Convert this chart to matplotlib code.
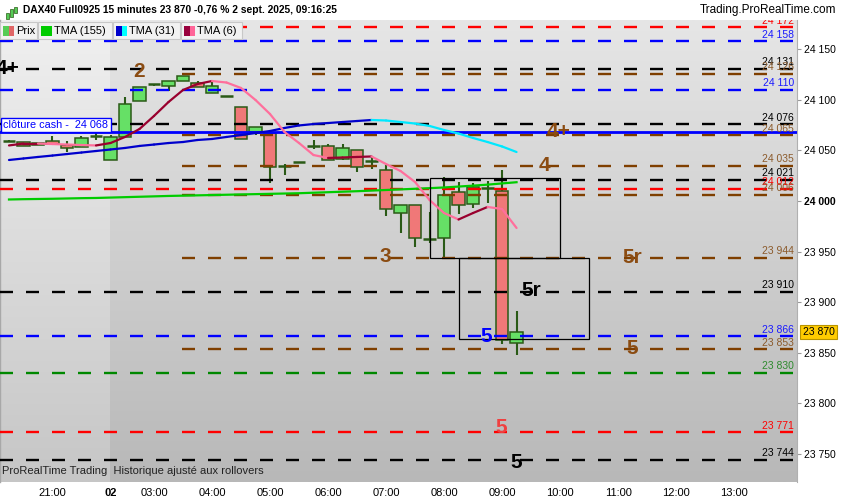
import matplotlib
matplotlib.use("Agg")
import matplotlib.pyplot as plt
import numpy as np
from matplotlib import font_manager
from matplotlib.patches import Rectangle
from matplotlib.collections import LineCollection
from matplotlib.colors import LinearSegmentedColormap

W, H = 850, 500

# bougies 15 minutes DAX40 Full0925 (index de barre 0 -> 35)
ouv = [24059, 24058, 24055, 24059.5, 24055.5, 24053, 24064.5, 24041, 24063, 24099,
       24116, 24114, 24119, 24116.5, 24107, 24104, 24093, 24068, 24067, 24035,
       24039, 24054, 24054, 24042, 24050.5, 24040, 24031, 23988.5, 23996, 23962.5,
       23963.5, 24008.5, 23997.5, 24013, 24010, 23859]
haut = [24060, 24058, 24057, 24064, 24059, 24064, 24069, 24065, 24103, 24113,
        24116, 24119, 24124, 24119, 24118, 24104, 24093, 24073, 24067, 24037,
        24039, 24060, 24056, 24056, 24050.5, 24044.5, 24035.5, 23996, 23996, 23989.5,
        24023.5, 24019, 24018, 24020, 24031, 23891]
bas = [24058, 24054, 24055, 24056, 24049, 24053, 24060, 24041, 24063, 24099,
       24114, 24109, 24119, 24112.5, 24107, 24104, 24061, 24065, 24017.5, 24026,
       24039, 24051.5, 24041, 24040.5, 24029, 24031.5, 23985, 23968.5, 23954, 23958.5,
       23943, 23987, 23993, 23998, 23858, 23848]
clo = [24059, 24054.5, 24057, 24056, 24052, 24062, 24064.5, 24063, 24096, 24112.5,
       24116, 24119, 24123.5, 24112.5, 24114, 24104, 24061, 24073, 24034, 24035,
       24039, 24054, 24041, 24052, 24034, 24040, 23992, 23996, 23963.5, 23962.5,
       24006, 23996.5, 24013.5, 24013, 23862.5, 23870]

tma155 = [24001.5, 24001.8, 24002.0, 24002.2, 24002.5, 24002.8, 24003.0, 24003.4, 24003.8, 24004.2,
          24004.6, 24005.0, 24005.3, 24005.6, 24005.9, 24006.2, 24006.5, 24006.8, 24007.1, 24007.4,
          24007.7, 24008.2, 24008.7, 24009.2, 24009.7, 24010.3, 24010.9, 24011.5, 24012.1, 24012.7,
          24013.4, 24014.3, 24015.2, 24016.2, 24017.4, 24018.6]
tma31 = [24040.6, 24042.1, 24043.6, 24045.0, 24046.5, 24048.0, 24049.5, 24051.0, 24052.5, 24054.5,
         24055.9, 24057.4, 24058.4, 24060.4, 24061.4, 24063.4, 24065.3, 24067.3, 24069.3, 24072.3,
         24074.8, 24076.2, 24077.2, 24078.2, 24079.2, 24080.2, 24079.7, 24078.2, 24076.7, 24074.3,
         24070.3, 24066.8, 24062.4, 24058.4, 24054.0, 24048.5]
tma6 = [24055.0, 24056.9, 24056.9, 24056.4, 24055.9, 24055.4, 24055.0, 24057.4, 24063.4, 24071.3,
        24084.2, 24098.0, 24109.9, 24115.8, 24118.8, 24117.3, 24111.9, 24100.0, 24086.1, 24068.3,
        24057.4, 24045.5, 24042.6, 24043.1, 24043.6, 24044.1, 24036.6, 24029.7, 24018.8, 24001.0,
        23988.1, 23981.7, 23988.1, 23994.1, 23992.1, 23973.3]

# niveaux horizontaux
niveaux_val = [24172, 24158, 24131, 24126, 24110, 24076, 24065, 24035, 24021, 24012,
               24006, 23944, 23910, 23866, 23853, 23830, 23771, 23744]
niveaux_typ = ['rouge', 'bleu', 'noir', 'brun', 'bleu', 'noir', 'brun', 'brun', 'noir', 'rouge',
               'brun', 'brun', 'noir', 'bleu', 'brun', 'vert', 'rouge', 'noir']
cloture_cash = 24068
dernier = 23870

# étiquettes de vagues
vagues_txt = ['4+', '2', '4+', '4', '3', '5r', '5r', '5', '5', '5', '5']
vagues_x = [-0.1, 8.97, 37.93, 36.9, 25.93, 42.97, 36.0, 32.9, 42.97, 33.93, 34.97]
vagues_y = [24131, 24128, 24069, 24035.5, 23945.5, 23944.5, 23911, 23866, 23853.5, 23776, 23741.5]
vagues_typ = ['noir', 'brun', 'brun', 'brun', 'brun', 'brun', 'noir', 'bleu', 'brun', 'rouge2', 'noir']

# zones (rectangles)
zones_x = [(29, 38), (31, 40)]
zones_y = [(23944, 24023), (23863, 23944)]

heures_pos = [3, 7, 10, 14, 18, 22, 26, 30, 34, 38, 42, 46, 50]
heures_lbl = ['21:00', '02', '03:00', '04:00', '05:00', '06:00', '07:00', '08:00',
              '09:00', '10:00', '11:00', '12:00', '13:00']
prix_ticks = [23750, 23800, 23850, 23900, 23950, 24000, 24050, 24100, 24150]

couleurs = {'rouge': '#ff0000', 'bleu': '#0000ff', 'noir': '#000000', 'brun': '#7f3f00',
            'vert': '#008800', 'rouge2': '#ee3333'}
coul_txt = {'rouge': '#ff0000', 'bleu': '#1a1aff', 'noir': '#000000', 'brun': '#8b5a2b',
            'vert': '#2e8b2e', 'rouge2': '#ee3333'}
coul_vague = {'noir': '#000000', 'brun': '#8b4c12', 'bleu': '#0000ff', 'rouge2': '#f04040'}

noms = {f.name for f in font_manager.fontManager.ttflist}
etroit = 'Liberation Sans Narrow' if 'Liberation Sans Narrow' in noms else 'Liberation Sans'
plt.rcParams['font.family'] = ['Liberation Sans', 'DejaVu Sans']
plt.rcParams['lines.scale_dashes'] = False

fig = plt.figure(figsize=(W / 100, H / 100), dpi=100)
fig.patch.set_facecolor('white')
ax = fig.add_axes([0, 18 / H, 797 / W, 462 / H])

xmin, xmax = -0.62, 54.34
ymin, ymax = 23721.8, 24179.2
sep = 6.97  # limite séance de la veille

# fond dégradé
grad = np.linspace(1, 0, 256).reshape(-1, 1)
cm_g = LinearSegmentedColormap.from_list('g', ['#b8b8b8', '#e6e6e6'])
cm_d = LinearSegmentedColormap.from_list('d', ['#c6c6c6', '#f0f0f0'])
ax.imshow(grad, cmap=cm_d, extent=[xmin, sep, ymin, ymax], aspect='auto', zorder=0, vmin=0, vmax=1)
ax.imshow(grad, cmap=cm_g, extent=[sep, xmax, ymin, ymax], aspect='auto', zorder=0, vmin=0, vmax=1)

# bougies
bord = '#2a5a16'
for i in range(len(ouv)):
    ax.vlines(i, bas[i], haut[i], color=bord, lw=1.5, zorder=2)
    if ouv[i] == clo[i]:
        ax.hlines(ouv[i], i - 0.42, i + 0.42, color=bord, lw=1.8, zorder=2)
    else:
        fc = '#66e066' if clo[i] > ouv[i] else '#f07878'
        ax.add_patch(Rectangle((i - 0.42, min(ouv[i], clo[i])), 0.84, abs(clo[i] - ouv[i]),
                               facecolor=fc, edgecolor=bord, lw=1.1, zorder=2))

# niveaux
tiret = (0, (9.36, 9.36))
for v, t in zip(niveaux_val, niveaux_typ):
    x0 = 11.93 if t == 'brun' else xmin
    ax.hlines(v, x0, xmax, color=couleurs[t], lw=1.7, linestyles=[tiret], zorder=3)
    ax.annotate(f"{v // 1000} {v % 1000:03d}", xy=(54.14, v), xytext=(0, 1.2),
                textcoords='offset points', ha='right', va='bottom', fontsize=7.5,
                color=coul_txt[t], zorder=5, annotation_clip=False, clip_on=True)

ax.axhline(cloture_cash, color='#0000ff', lw=2, zorder=3)
ax.annotate(f"clôture cash -  {cloture_cash // 1000} {cloture_cash % 1000:03d}",
            xy=(xmin, cloture_cash), xytext=(2.5, 1.5), textcoords='offset points',
            ha='left', va='bottom', fontsize=7.8, color='#0000ff', zorder=6,
            bbox=dict(boxstyle='square,pad=0.2', fc='white', ec='#0000ff', lw=1))


# moyennes mobiles colorées selon la pente
def tma_coloree(vals, c_haut, c_bas, lw):
    xs = np.arange(len(vals))
    segs, cols = [], []
    for k in range(len(vals) - 1):
        segs.append([(xs[k], vals[k]), (xs[k + 1], vals[k + 1])])
        cols.append(c_haut if vals[k + 1] >= vals[k] else c_bas)
    ax.add_collection(LineCollection(segs, colors=cols, linewidths=lw, zorder=4,
                                     capstyle='round', joinstyle='round'))


ax.plot(range(len(tma155)), tma155, color='#00cc00', lw=1.6, zorder=4)
tma_coloree(tma31, '#0000cc', '#00e8ff', 1.6)
tma_coloree(tma6, '#99002e', '#ff6f9c', 1.6)

# zones
for (x0, x1), (y0, y1) in zip(zones_x, zones_y):
    ax.add_patch(Rectangle((x0, y0), x1 - x0, y1 - y0, fill=False, ec='black', lw=0.9, zorder=5))

# étiquettes de vagues
for s, x, y, t in zip(vagues_txt, vagues_x, vagues_y, vagues_typ):
    ax.text(x, y, s, ha='center', va='center', fontsize=15, fontweight='bold',
            color=coul_vague[t], zorder=6, clip_on=True)

ax.text(0.003, 0.012, "ProRealTime Trading  Historique ajusté aux rollovers", transform=ax.transAxes,
        fontsize=8, family=etroit, color='#222222', va='bottom', ha='left', zorder=6)

ax.set_xlim(xmin, xmax)
ax.set_ylim(ymin, ymax)

# axes
ax.yaxis.tick_right()
ax.set_yticks(prix_ticks)
ax.set_yticklabels([f"{p // 1000} {p % 1000:03d}" for p in prix_ticks], fontsize=7.5)
for lab in ax.get_yticklabels():
    if lab.get_text() == '24 000':
        lab.set_fontweight('bold')
ax.tick_params(axis='y', length=3, color='#999999', pad=2)
ax.set_xticks(heures_pos)
ax.set_xticklabels(heures_lbl, fontsize=8, family=etroit)
for lab in ax.get_xticklabels():
    if lab.get_text() == '02':
        lab.set_fontweight('bold')
ax.tick_params(axis='x', length=0, pad=4)
for s in ['top', 'bottom']:
    ax.spines[s].set_visible(False)
ax.spines['right'].set_color('#b0b0b0')
ax.spines['left'].set_color('#a8a8a8')
ax.spines['left'].set_linewidth(1.0)

# dernier cours
ax.annotate(f"{dernier // 1000} {dernier % 1000:03d}", xy=(1, dernier), xycoords=('axes fraction', 'data'),
            xytext=(4, 0), textcoords='offset points', ha='left', va='center', fontsize=7.5,
            bbox=dict(boxstyle='square,pad=0.2', fc='#ffcc00', ec='#b89400', lw=0.8),
            annotation_clip=False, zorder=7)


# bandeau du haut
def fx(px):
    return px / W


def fy(py):
    return 1 - py / H


fig.text(fx(23), fy(10), "DAX40 Full0925 15 minutes 23 870 -0,76 % 2 sept. 2025, 09:16:25",
         fontsize=7.4, fontweight='bold', va='center', ha='left', family=etroit)
fig.text(fx(836), fy(10), "Trading.ProRealTime.com", fontsize=8.5, va='center', ha='right')
for k, (h0, h1) in enumerate([(10, 16), (6, 14), (4, 10)]):
    fig.patches.append(Rectangle((fx(6 + 4 * k), fy(h1 + 3)), 3 / W, (h1 - h0) / H,
                                 transform=fig.transFigure, fc='#55cc55', ec='#2a5a16', lw=0.5))

legende = [("Prix", 0, 37, '#55cc55', '#e06666'),
           ("TMA (155)", 38, 112, '#00cc00', '#00cc00'),
           ("TMA (31)", 113, 180, '#0000cc', '#00ffff'),
           ("TMA (6)", 181, 242, '#99003d', '#ff6699')]
for nom, x0, x1, c1, c2 in legende:
    fig.patches.append(Rectangle((fx(x0), fy(39)), (x1 - x0) / W, 17 / H, transform=fig.transFigure,
                                 fc='#f2f2f2', ec='#c8c8c8', lw=0.8, zorder=8))
    fig.patches.append(Rectangle((fx(x0 + 3), fy(36)), 5.5 / W, 10 / H, transform=fig.transFigure,
                                 fc=c1, ec='none', zorder=9))
    fig.patches.append(Rectangle((fx(x0 + 8.5), fy(36)), 5.5 / W, 10 / H, transform=fig.transFigure,
                                 fc=c2, ec='none', zorder=9))
    fig.text(fx(x0 + 16), fy(30.5), nom, fontsize=8, va='center', ha='left', zorder=10)

fig.savefig("out.png", dpi=100)
